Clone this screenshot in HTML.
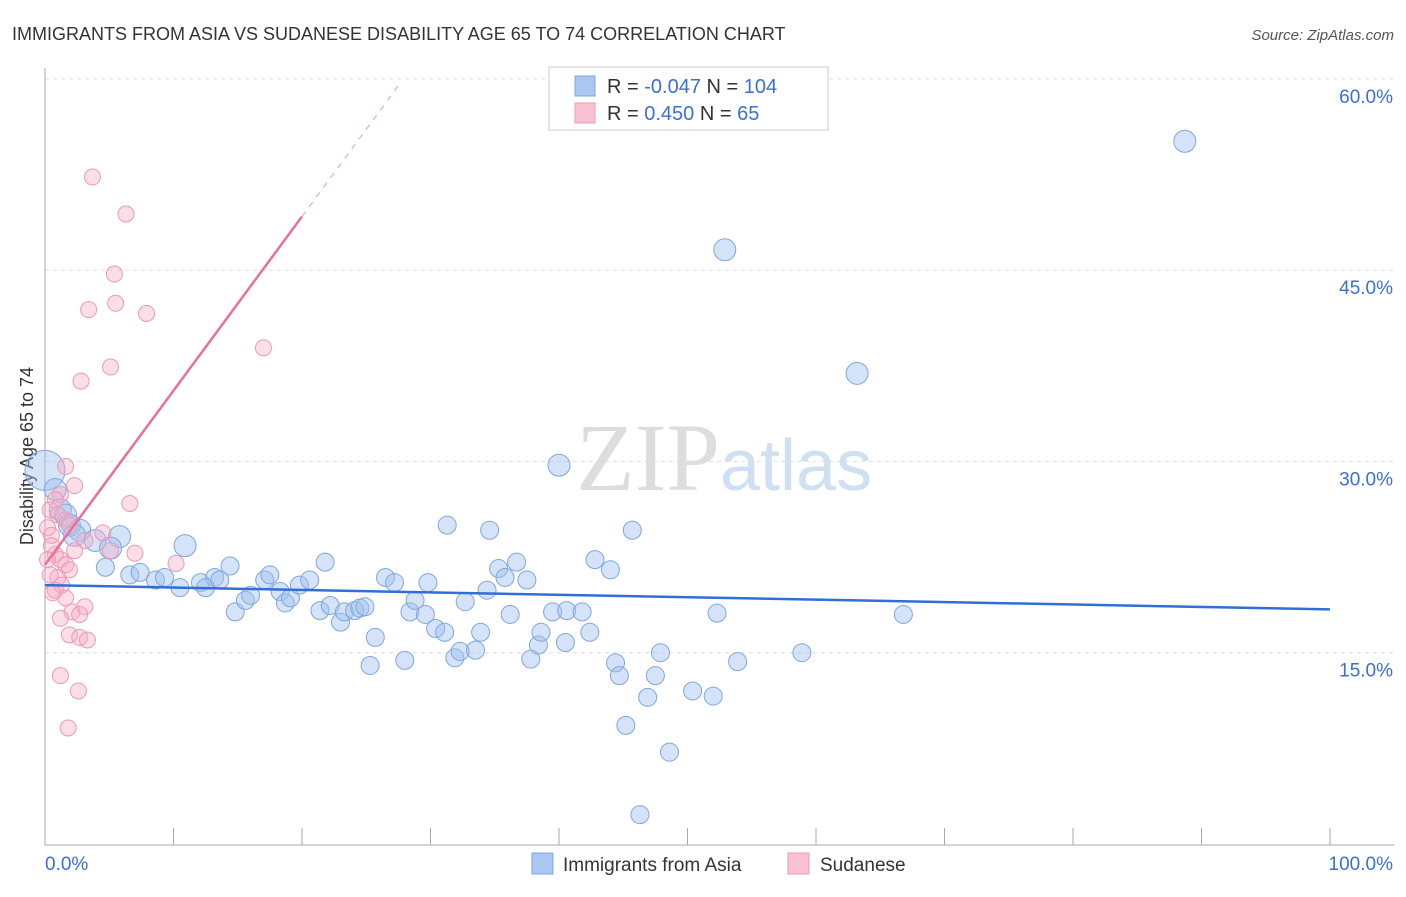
<!DOCTYPE html>
<html><head><meta charset="utf-8"><style>
body{margin:0;background:#fff;font-family:"Liberation Sans",sans-serif;}
</style></head><body>
<svg id="chart" width="1406" height="892" xmlns="http://www.w3.org/2000/svg">
<text x="12" y="40" font-size="18" fill="#333">IMMIGRANTS FROM ASIA VS SUDANESE DISABILITY AGE 65 TO 74 CORRELATION CHART</text>
<text x="1394" y="40" font-size="15" fill="#555" font-style="italic" text-anchor="end">Source: ZipAtlas.com</text>
<text x="720" y="490" font-size="96" fill="#ddd" font-family="Liberation Serif,serif" text-anchor="end">ZIP</text>
<text x="720" y="490" font-size="72" fill="#cfe0f3">atlas</text>
<text transform="translate(33,456) rotate(-90)" font-size="18" fill="#333" text-anchor="middle">Disability Age 65 to 74</text>
<g id="grid"></g><g id="axes"></g><g id="pts"></g><g id="trend"></g>
<g>
<rect x="549" y="67" width="279" height="63" fill="#fff" stroke="#ccc"/>
<rect x="575" y="76" width="20" height="20" fill="#a9c7f0" stroke="#7fa6e0"/>
<rect x="575" y="103" width="20" height="20" fill="#f8c2d3" stroke="#ec9ab5"/>
<text x="607" y="93" font-size="20" fill="#333">R = <tspan fill="#3a6fd6">-0.047</tspan>   N = <tspan fill="#3a6fd6">104</tspan></text>
<text x="607" y="120" font-size="20" fill="#333">R =   <tspan fill="#3a6fd6">0.450</tspan>   N =   <tspan fill="#3a6fd6">65</tspan></text>
</g>
<g>
<rect x="532" y="853" width="21" height="21" fill="#a9c7f0" stroke="#7fa6e0"/>
<text x="563" y="871" font-size="19" fill="#333">Immigrants from Asia</text>
<rect x="788" y="853" width="21" height="21" fill="#f8c2d3" stroke="#ec9ab5"/>
<text x="820" y="871" font-size="19" fill="#333">Sudanese</text>
</g>
</svg>
<script>
const yTicks=[15,30,45,60];
const xTickLabels=["0.0%","100.0%"];
const asiaX=[88.7,52.9,63.2,40.0,0,0.8,1.2,1.6,1.9,2.7,2.3,3.9,5.8,5.1,10.9,4.7,6.6,7.4,8.6,9.3,10.5,12.1,13.2,12.5,14.4,13.6,14.8,15.6,16.0,17.1,17.5,18.3,18.7,19.1,19.8,20.6,21.4,22.2,21.8,23.0,23.3,24.1,24.5,24.9,25.7,25.3,26.5,27.2,28.0,28.4,28.8,29.6,29.8,30.4,31.1,31.3,31.9,32.3,32.7,33.5,33.9,34.4,34.6,35.3,35.8,36.2,36.7,37.5,37.8,38.4,38.6,39.5,40.6,41.8,40.5,42.4,42.8,44.0,45.7,44.4,44.7,45.2,46.3,46.9,47.5,47.9,48.6,50.4,52.0,52.3,53.9,58.9,66.8];
const asiaY=[55.1,46.6,36.9,29.7,29.3,27.8,26.2,25.8,25.0,24.6,24.2,23.8,24.1,23.2,23.4,21.7,21.1,21.3,20.7,20.9,20.1,20.5,20.9,20.1,21.8,20.7,18.2,19.1,19.5,20.7,21.1,19.8,18.9,19.3,20.3,20.7,18.3,18.7,22.1,17.4,18.2,18.3,18.5,18.6,16.2,14.0,20.9,20.5,14.4,18.2,19.1,18.0,20.5,16.9,16.6,25.0,14.6,15.1,19.0,15.2,16.6,19.9,24.6,21.6,20.9,18.0,22.1,20.7,14.5,15.6,16.6,18.2,18.3,18.2,15.8,16.6,22.3,21.5,24.6,14.2,13.2,9.3,2.3,11.5,13.2,15.0,7.2,12.0,11.6,18.1,14.3,15.0,18.0];
const sudX=[3.7,6.3,5.4,5.5,3.4,7.9,17.0,5.1,2.8,1.6,2.3,1.2,0.8,0.4,1.0,1.6,1.9,0.2,0.5,3.1,6.6,4.5,7.0,10.2,0.8,1.2,1.6,1.9,1.0,1.3,0.8,1.6,3.1,2.1,2.7,1.2,1.9,2.7,3.3,1.2,2.6,1.8,0.5,0.2,2.3,5.1,0.4,0.6];
const sudY=[52.3,49.4,44.7,42.4,41.9,41.6,38.9,37.4,36.3,29.6,28.1,27.4,27.0,26.2,25.8,25.4,25.0,24.8,24.2,23.8,26.7,24.4,22.8,22.0,22.7,22.3,21.9,21.5,20.9,20.3,19.9,19.3,18.6,18.2,18.0,17.7,16.4,16.2,16.0,13.2,12.0,9.1,23.4,22.3,23.0,23.0,21.1,19.7];
const asiaTrend=[20.3,18.4];
const sudTrend=[21.9,49.2,59.6];
const sudTrendX=[0,20,27.6];
const NS="http://www.w3.org/2000/svg";
const X=v=>45+v*12.85, Y=v=>844-v*12.753;
function mk(tag,attrs,parent){const e=document.createElementNS(NS,tag);for(const k in attrs)e.setAttribute(k,attrs[k]);document.getElementById(parent).appendChild(e);return e;}
yTicks.forEach(t=>{
 const l=mk('line',{x1:45,x2:1394,y1:Y(t),y2:Y(t),stroke:'#ddd','stroke-dasharray':'4,4'},'grid');
 
 
 const tx=mk('text',{x:1393,y:Y(t)+24,'font-size':19,fill:'#3a6fd6','text-anchor':'end'},'grid');
 tx.textContent=t.toFixed(1)+'%';
 
 
});
const ax=mk('line',{x1:45,x2:1394,y1:845,y2:845,stroke:'#aaa'},'axes');


const ay=mk('line',{x1:45,x2:45,y1:68,y2:845,stroke:'#aaa'},'axes');


for(let i=0;i<=10;i++){
 const t=mk('line',{x1:X(i*10),x2:X(i*10),y1:828,y2:845,stroke:'#aaa'},'axes');
 
 
}
const xl0=mk('text',{x:45,y:870,'font-size':19,fill:'#3a6fd6'},'axes');xl0.textContent=xTickLabels[0];


const xl1=mk('text',{x:1393,y:870,'font-size':19,fill:'#3a6fd6','text-anchor':'end'},'axes');xl1.textContent=xTickLabels[1];


asiaX.forEach((v,i)=>{
 const r=i===4?20:(i<15?11:9);
 const c=mk('circle',{cx:X(v),cy:Y(asiaY[i]),r:r,fill:'rgba(160,192,238,0.45)',stroke:'#7fa6e0','stroke-width':1},'pts');
 
 
});
sudX.forEach((v,i)=>{
 const c=mk('circle',{cx:X(v),cy:Y(sudY[i]),r:8,fill:'rgba(246,172,198,0.4)',stroke:'#ec9ab5','stroke-width':1},'pts');
 
 
});
const bt=mk('line',{x1:X(0),y1:Y(asiaTrend[0]),x2:X(100),y2:Y(asiaTrend[1]),stroke:'#2f6fd6','stroke-width':2.5},'trend');


const pt=mk('line',{x1:X(sudTrendX[0]),y1:Y(sudTrend[0]),x2:X(sudTrendX[1]),y2:Y(sudTrend[1]),stroke:'#e8709a','stroke-width':2.5},'trend');


const pd=mk('line',{x1:X(sudTrendX[1]),y1:Y(sudTrend[1]),x2:X(sudTrendX[2]),y2:Y(sudTrend[2]),stroke:'#f0a8c0','stroke-width':1.2,'stroke-dasharray':'6,6'},'trend');


</script>
</body></html>
